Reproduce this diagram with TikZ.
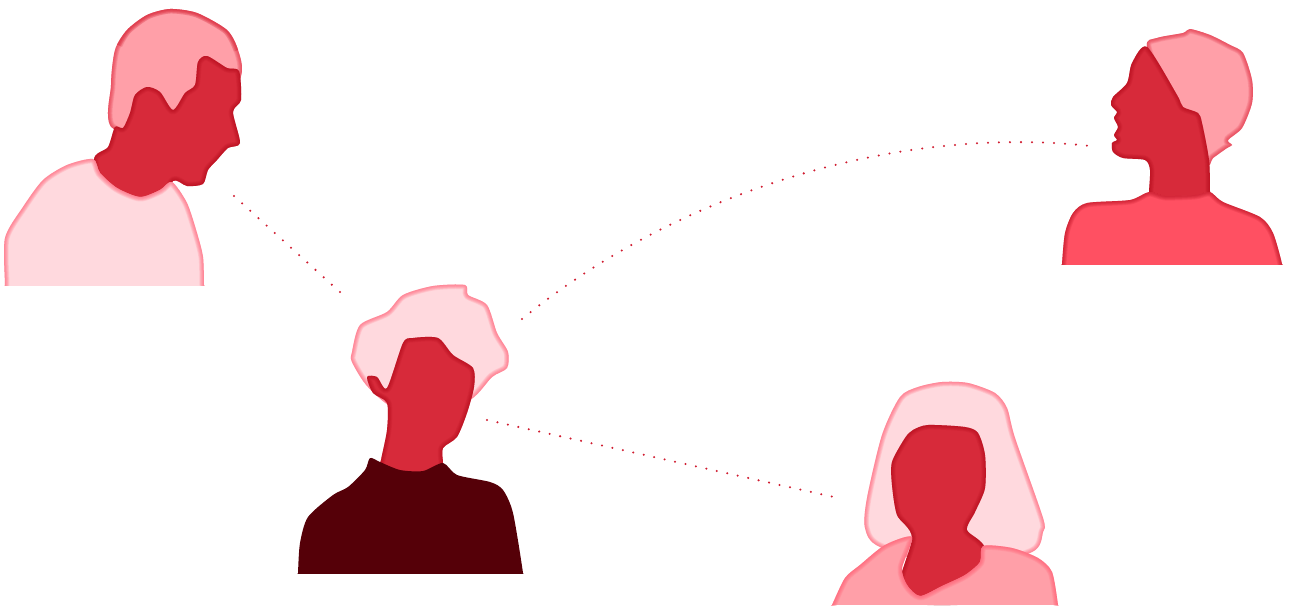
\documentclass[tikz,border=0pt]{standalone}
\definecolor{face}{HTML}{D72A3A}
\definecolor{facedark}{HTML}{A80010}
\definecolor{hairmid}{HTML}{FF9FA8}
\definecolor{pale}{HTML}{FFD9DE}
\definecolor{coral}{HTML}{FF5062}
\definecolor{maroon}{HTML}{550008}
\definecolor{edgepink}{HTML}{FF5A70}
\definecolor{edgered}{HTML}{E02A40}
\definecolor{dots}{HTML}{D01C30}
\tikzset{
  x=1pt,y=-1pt,
  link/.style={dots,line width=2.3pt,line cap=round,dash pattern=on 0pt off #1},
  soft/.style={smooth cycle,tension=.45},
}
\newcommand{\glowshape}[3]{%
  \begin{scope}
    \clip #1;
    \fill[#2] (0,0) rectangle (1290,605);
    \foreach \w in {9,7.5,6,4.5,3,1.5}{\draw[line join=round,line width=\w pt,opacity=.15,#3] #1;}
  \end{scope}}
\def\hairA{plot[soft] coordinates {(115,130) (111,85) (115,50) (127,30) (147,15) (170,9) (197,13) (227,30) (238,50) (241,76) (215,130)}}
\def\hairAtop{plot[smooth,tension=.45] coordinates {(118,45) (127,30) (147,15) (170,9) (197,13) (227,30) (238,50)}}
\def\faceA{plot[soft] coordinates {(94,160) (108,147) (115,127) (123,128) (130,113) (135,95) (147,87) (160,92) (173,110) (185,93) (195,85) (198,62) (207,56) (227,68) (239,71) (241,100) (233,112) (240,143) (228,148) (217,160) (208,170) (203,184) (187,186) (173,181) (160,210) (110,210)}}
\def\bodyA{plot[soft] coordinates {(5,295) (5,285) (5,238) (23,207) (43,180) (67,165) (93,159) (100,173) (117,188) (140,197) (160,190) (172,182) (187,203) (197,233) (203,257) (204,285) (204,295)}}
\def\hairB{plot[soft] coordinates {(1147,47) (1157,38) (1183,33) (1190,29) (1210,35) (1230,45) (1243,53) (1252,80) (1252,103) (1242,128) (1228,140) (1232,145) (1227,148) (1213,158) (1205,165) (1170,110)}}
\def\faceB{plot[soft] coordinates {(1147,47) (1132,63) (1127,83) (1113,97) (1111,105) (1117,112) (1114,118) (1118,127) (1114,135) (1117,140) (1112,143) (1113,152) (1123,158) (1145,160) (1150,170) (1149,192) (1149,205) (1210,205) (1210,192) (1209,160) (1202,123) (1198,113) (1183,107) (1177,95)}}
\def\bodyB{plot[soft] coordinates {(1062,275) (1062,264) (1065,233) (1073,213) (1087,203) (1130,200) (1149,192) (1165,196) (1195,195) (1210,192) (1223,202) (1260,217) (1273,233) (1282,264) (1282,275)}}
\def\hairC{plot[soft] coordinates {(352,352) (360,325) (387,312) (403,295) (433,286) (465,285) (468,295) (487,305) (497,333) (508,352) (507,368) (492,377) (466,402) (400,410) (368,387) (352,362)}}
\def\faceC{plot[soft] coordinates {(403,343) (413,338) (438,338) (453,355) (473,368) (474,387) (467,413) (457,437) (443,448) (443,463) (443,480) (378,480) (381,460) (387,430) (387,403) (373,393) (367,377) (377,377) (387,388)}}
\def\bodyC{plot[soft] coordinates {(298,585) (298,573) (300,543) (308,517) (333,495) (348,487) (365,470) (370,458) (380,462) (400,470) (423,471) (443,463) (457,475) (490,482) (503,490) (513,513) (523,573) (523,585)}}
\def\hairD{plot[soft] coordinates {(865,528) (867,498) (882,435) (900,397) (918,387) (942,382) (968,383) (995,393) (1007,408) (1015,438) (1043,518) (1043,532) (1032,552) (960,570) (880,547)}}
\def\faceD{plot[soft] coordinates {(913,430) (928,425) (965,427) (978,433) (985,455) (985,488) (975,512) (967,530) (985,548) (990,600) (900,600) (912,538) (897,515) (892,485) (892,462) (905,438)}}
\def\bodyD{plot[soft] coordinates {(826,618) (832,605) (845,578) (860,565) (885,545) (912,537) (902,568) (907,585) (920,596) (942,586) (965,575) (980,562) (983,546) (1012,548) (1038,558) (1052,572) (1058,605) (1059,618)}}
\begin{document}
\begin{tikzpicture}
\useasboundingbox (0,0) rectangle (1290,605);
% man, upper left
\begin{scope}
  \clip (0,0) rectangle (1290,285);
  \glowshape{\hairA}{hairmid}{edgered}
  \begin{scope}
    \clip \hairA;
    \foreach \w in {9,6,3}{\draw[line width=\w pt,opacity=.2,face] \hairAtop;}
  \end{scope}
  \glowshape{\faceA}{face}{facedark,opacity=.09}
  \glowshape{\bodyA}{pale}{edgepink}
\end{scope}
% woman, upper right
\begin{scope}
  \clip (0,0) rectangle (1290,264);
  \glowshape{\hairB}{hairmid}{edgered}
  \glowshape{\faceB}{face}{facedark,opacity=.09}
  \glowshape{\bodyB}{coral}{facedark,opacity=.1}
\end{scope}
% centre figure
\begin{scope}
  \clip (0,0) rectangle (1290,573);
  \glowshape{\hairC}{pale}{edgepink}
  \glowshape{\faceC}{face}{facedark,opacity=.09}
  \fill[maroon] \bodyC;
\end{scope}
% figure, lower right
\glowshape{\hairD}{pale}{edgepink}
\glowshape{\faceD}{face}{facedark,opacity=.09}
\glowshape{\bodyD}{hairmid}{edgepink}
% dotted links
\coordinate (manEnd) at (234,196);
\coordinate (centreA) at (341,293);
\coordinate (centreB) at (522,319);
\coordinate (womanEnd) at (1090,146);
\coordinate (centreC) at (487,420);
\coordinate (lowerEnd) at (834,497);
\draw[link=11pt] (manEnd) -- (centreA);
\draw[link=11.01pt] (centreB) .. controls (680,190) and (900,125) .. (womanEnd);
\draw[link=10.7pt] (centreC) -- (lowerEnd);
\end{tikzpicture}
\end{document}
